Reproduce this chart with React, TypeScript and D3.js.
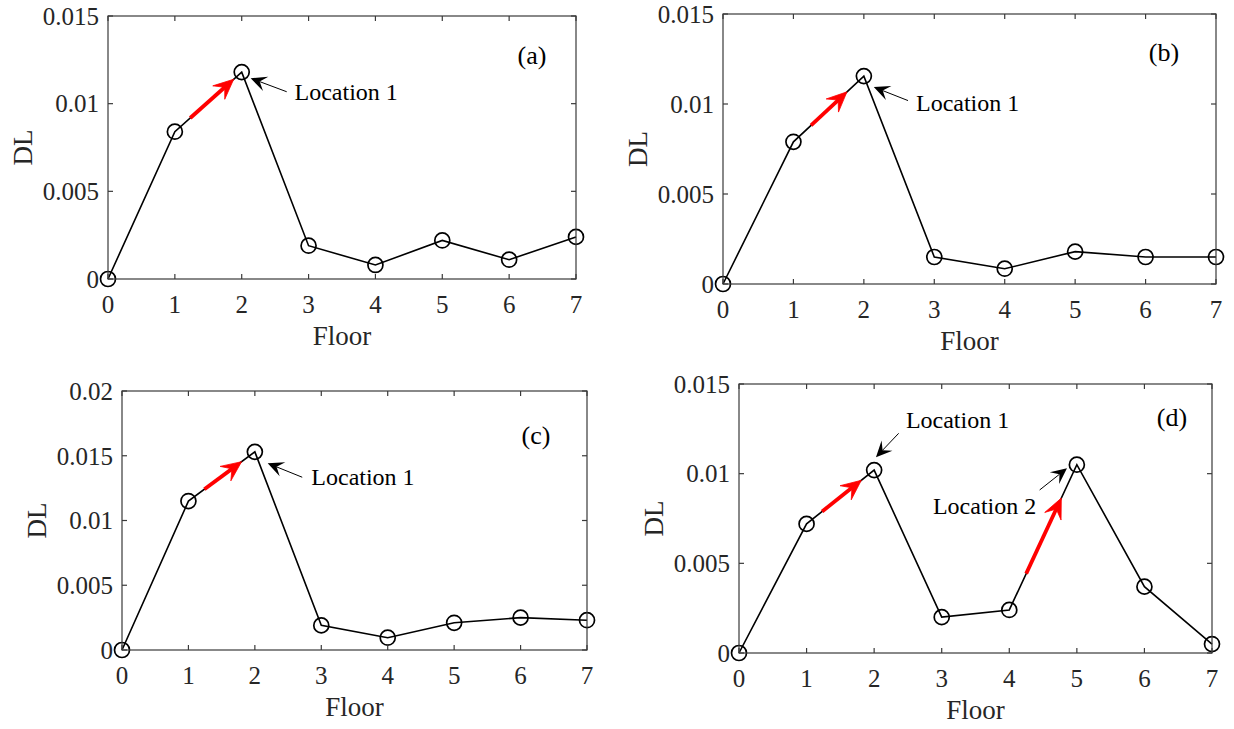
import React from "react";
import * as d3 from "d3";

const floors = [0, 1, 2, 3, 4, 5, 6, 7];
const dlA = [0, 0.0084, 0.0118, 0.0019, 0.0008, 0.0022, 0.0011, 0.0024];
const dlB = [0, 0.0079, 0.01155, 0.0015, 0.00085, 0.0018, 0.0015, 0.0015];
const dlC = [0, 0.0115, 0.0153, 0.0019, 0.00095, 0.0021, 0.0025, 0.0023];
const dlD = [0, 0.0072, 0.0102, 0.002, 0.0024, 0.0105, 0.0037, 0.0005];

const yTicks015 = [0, 0.005, 0.01, 0.015];
const yTicks02 = [0, 0.005, 0.01, 0.015, 0.02];
const yTickLabels: Record<string, string> = {
  "0": "0",
  "0.005": "0.005",
  "0.01": "0.01",
  "0.015": "0.015",
  "0.02": "0.02",
};
const xLabel = "Floor";
const yLabel = "DL";

type Pt = [number, number];
interface Note {
  tail: Pt;
  tip: Pt;
  text: string;
  textAt: Pt;
}
interface PanelSpec {
  id: string;
  label: string;
  labelPos: [number, number];
  box: { left: number; right: number; top: number; bottom: number };
  yMax: number;
  yTicks: number[];
  values: number[];
  red: [number, number][]; // floor ranges along the line
  notes: Note[];
}

const panels: PanelSpec[] = [
  {
    id: "a",
    label: "(a)",
    labelPos: [532, 55],
    box: { left: 108, right: 576, top: 16, bottom: 279 },
    yMax: 0.015,
    yTicks: yTicks015,
    values: dlA,
    red: [[1.23, 1.88]],
    notes: [
      { tail: [2.673, 0.01068], tip: [2.134, 0.01145], text: "Location 1", textAt: [2.79, 0.01021] },
    ],
  },
  {
    id: "b",
    label: "(b)",
    labelPos: [1164, 52],
    box: { left: 723, right: 1216, top: 14, bottom: 284 },
    yMax: 0.015,
    yTicks: yTicks015,
    values: dlB,
    red: [[1.25, 1.76]],
    notes: [
      { tail: [2.627, 0.01019], tip: [2.141, 0.01094], text: "Location 1", textAt: [2.74, 0.00961] },
    ],
  },
  {
    id: "c",
    label: "(c)",
    labelPos: [536, 435],
    box: { left: 122, right: 587, top: 391, bottom: 650 },
    yMax: 0.02,
    yTicks: yTicks02,
    values: dlC,
    red: [[1.24, 1.8]],
    notes: [
      { tail: [2.713, 0.01334], tip: [2.193, 0.01442], text: "Location 1", textAt: [2.85, 0.01274] },
    ],
  },
  {
    id: "d",
    label: "(d)",
    labelPos: [1172, 417],
    box: { left: 739, right: 1212, top: 384, bottom: 653 },
    yMax: 0.015,
    yTicks: yTicks015,
    values: dlD,
    red: [
      [1.23, 1.81],
      [4.25, 4.77],
    ],
    notes: [
      { tail: [2.363, 0.01225], tip: [2.027, 0.01092], text: "Location 1", textAt: [2.47, 0.01255] },
      { tail: [4.449, 0.00909], tip: [4.854, 0.0103], text: "Location 2", textAt: [2.87, 0.00775] },
    ],
  },
];

const FONT = "'Liberation Serif', 'Times New Roman', serif";
const AXIS = "#3a3a3a";

function arrow(x1: number, y1: number, x2: number, y2: number, headLen: number, halfW: number, notch: number) {
  const dx = x2 - x1;
  const dy = y2 - y1;
  const len = Math.hypot(dx, dy);
  const ux = dx / len;
  const uy = dy / len;
  const px = -uy;
  const py = ux;
  const bx = x2 - ux * headLen;
  const by = y2 - uy * headLen;
  const nx = x2 - ux * headLen * notch;
  const ny = y2 - uy * headLen * notch;
  const head = `M${x2},${y2}L${bx + px * halfW},${by + py * halfW}L${nx},${ny}L${bx - px * halfW},${by - py * halfW}Z`;
  const line = `M${x1},${y1}L${nx},${ny}`;
  return { head, line };
}

function interp(values: number[], f: number) {
  const i = Math.min(Math.floor(f), values.length - 2);
  const t = f - i;
  return values[i] + (values[i + 1] - values[i]) * t;
}

function Panel({ p }: { p: PanelSpec }) {
  const { left, right, top, bottom } = p.box;
  const x = d3.scaleLinear().domain([0, 7]).range([left, right]);
  const y = d3.scaleLinear().domain([0, p.yMax]).range([bottom, top]);
  const line = d3
    .line<number>()
    .x((_, i) => x(floors[i]))
    .y((v) => y(v));
  const tickLen = 5;
  return (
    <g>
      <path d={line(p.values) || ""} fill="none" stroke="#000" strokeWidth={1.6} />
      {p.values.map((v, i) => (
        <circle key={i} cx={x(floors[i])} cy={y(v)} r={7.5} fill="none" stroke="#000" strokeWidth={1.7} />
      ))}
      <rect x={left} y={top} width={right - left} height={bottom - top} fill="none" stroke={AXIS} strokeWidth={1.2} />
      {floors.map((f) => (
        <g key={"xt" + f}>
          <line x1={x(f)} x2={x(f)} y1={bottom} y2={bottom - tickLen} stroke={AXIS} strokeWidth={1.2} />
          <line x1={x(f)} x2={x(f)} y1={top} y2={top + tickLen} stroke={AXIS} strokeWidth={1.2} />
          <text x={x(f)} y={bottom + 34} fontSize={25} textAnchor="middle" fontFamily={FONT} fill="#262626">
            {f}
          </text>
        </g>
      ))}
      {p.yTicks.map((t) => (
        <g key={"yt" + t}>
          <line x1={left} x2={left + tickLen} y1={y(t)} y2={y(t)} stroke={AXIS} strokeWidth={1.2} />
          <line x1={right} x2={right - tickLen} y1={y(t)} y2={y(t)} stroke={AXIS} strokeWidth={1.2} />
          <text x={left - 9} y={y(t)} dy="0.35em" fontSize={25} textAnchor="end" fontFamily={FONT} fill="#262626">
            {yTickLabels[String(t)]}
          </text>
        </g>
      ))}
      <text x={(left + right) / 2} y={bottom + 66} fontSize={27} textAnchor="middle" fontFamily={FONT} fill="#262626">
        {xLabel}
      </text>
      <text
        transform={`translate(${left - 76},${(top + bottom) / 2}) rotate(-90)`}
        fontSize={27}
        textAnchor="middle"
        fontFamily={FONT}
        fill="#262626"
      >
        {yLabel}
      </text>
      <text x={p.labelPos[0]} y={p.labelPos[1]} dy="0.35em" fontSize={26} textAnchor="middle" fontFamily={FONT} fill="#000">
        {p.label}
      </text>
      {p.red.map(([f0, f1], i) => {
        const a = arrow(x(f0), y(interp(p.values, f0)), x(f1), y(interp(p.values, f1)), 20, 9, 0.6);
        return (
          <g key={"r" + i}>
            <path d={a.line} stroke="#ff0000" strokeWidth={3.8} fill="none" />
            <path d={a.head} fill="#ff0000" stroke="#ff0000" strokeWidth={0.8} />
          </g>
        );
      })}
      {p.notes.map((n, i) => {
        const a = arrow(x(n.tail[0]), y(n.tail[1]), x(n.tip[0]), y(n.tip[1]), 16, 7.5, 0.6);
        return (
          <g key={"n" + i}>
            <path d={a.line} stroke="#000" strokeWidth={1} fill="none" />
            <path d={a.head} fill="#000" />
            <text x={x(n.textAt[0])} y={y(n.textAt[1])} fontSize={24} fontFamily={FONT} fill="#000">
              {n.text}
            </text>
          </g>
        );
      })}
    </g>
  );
}

export default function App() {
  return (
    <svg
      width={1234}
      height={729}
      style={{ position: "absolute", left: 0, top: 0, background: "#fff" }}
      xmlns="http://www.w3.org/2000/svg"
    >
      <rect width={1234} height={729} fill="#fff" />
      {panels.map((p) => (
        <Panel key={p.id} p={p} />
      ))}
    </svg>
  );
}
